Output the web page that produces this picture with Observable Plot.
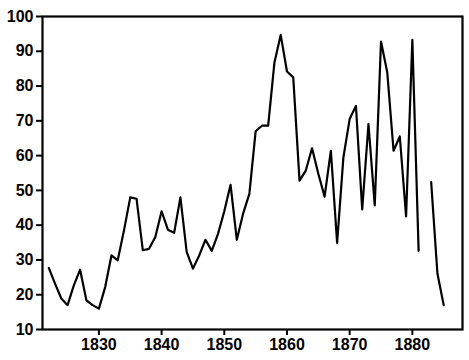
<!DOCTYPE html>
<html>
<head>
<meta charset="utf-8">
<script src="https://cdn.jsdelivr.net/npm/d3@7"></script>
<script src="https://cdn.jsdelivr.net/npm/@observablehq/plot@0.6"></script>
<style>
  html, body { margin: 0; padding: 0; background: #fff; }
  #chart svg { display: block; }
</style>
</head>
<body>
<div id="chart"></div>
<script>
const years = [
  1822, 1823, 1824, 1825, 1826, 1827, 1828, 1829, 1830, 1831,
  1832, 1833, 1834, 1835, 1836, 1837, 1838, 1839, 1840, 1841,
  1842, 1843, 1844, 1845, 1846, 1847, 1848, 1849, 1850, 1851,
  1852, 1853, 1854, 1855, 1856, 1857, 1858, 1859, 1860, 1861,
  1862, 1863, 1864, 1865, 1866, 1867, 1868, 1869, 1870, 1871,
  1872, 1873, 1874, 1875, 1876, 1877, 1878, 1879, 1880, 1881,
  1882, 1883, 1884, 1885
];
const values = [
  27.7, 23.2, 18.9, 17.0, 22.7, 27.2, 18.4, 17.0, 16.0, 22.2,
  31.3, 29.9, 38.5, 48.0, 47.6, 32.8, 33.2, 36.6, 44.0, 38.7,
  37.8, 48.0, 32.3, 27.5, 31.3, 35.8, 32.6, 37.5, 44.0, 51.6,
  35.8, 43.3, 49.0, 67.0, 68.6, 68.6, 86.8, 94.7, 84.2, 82.5,
  52.8, 55.7, 62.1, 54.8, 48.2, 61.4, 34.9, 59.5, 70.5, 74.3,
  44.5, 69.1, 45.7, 92.8, 83.9, 61.4, 65.5, 42.5, 93.3, 32.6,
  null, 52.4, 26.1, 17.0
];
const xTicks = [1830, 1840, 1850, 1860, 1870, 1880];
const yTicks = [10, 20, 30, 40, 50, 60, 70, 80, 90, 100];

const data = years.map((year, i) => ({year, value: values[i]}));

const chart = Plot.plot({
  width: 469,
  height: 360,
  marginLeft: 42,
  marginRight: 7,
  marginTop: 16,
  marginBottom: 31,
  style: {fontFamily: "'Liberation Sans', Arial, sans-serif", color: "#000", background: "#fff"},
  x: {domain: [1821, 1888], label: null},
  y: {domain: [10, 100], label: null},
  marks: [
    Plot.axisX({ticks: xTicks, tickFormat: d => String(d), tickSize: 6, tickPadding: 3,
      fontSize: 16, fontWeight: "bold", strokeWidth: 2, label: null}),
    Plot.axisY({ticks: yTicks, tickSize: 6, tickPadding: 3,
      fontSize: 16, fontWeight: "bold", strokeWidth: 2, label: null}),
    Plot.line(data, {x: "year", y: "value", stroke: "#000", strokeWidth: 2.2,
      defined: d => d.value != null}),
    Plot.frame({stroke: "#000", strokeWidth: 2.2})
  ]
});
document.getElementById("chart").appendChild(chart);
</script>
</body>
</html>
